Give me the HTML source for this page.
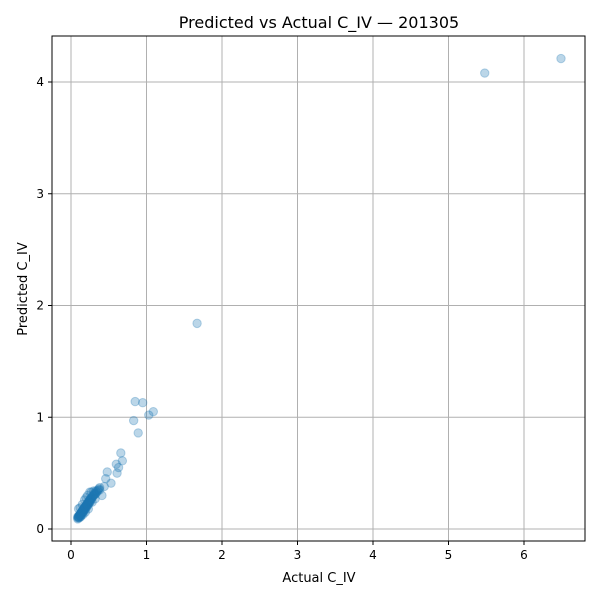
<!DOCTYPE html>
<html><head><meta charset="utf-8"><style>
body{margin:0;background:#fff}
svg text{font-family:"DejaVu Sans","Liberation Sans",sans-serif;fill:#000}
</style></head><body>
<svg id="chart" width="600" height="600" xmlns="http://www.w3.org/2000/svg">
<rect width="600" height="600" fill="#fff"/>
<g id="grid"></g>
<g id="points"></g>
<rect x="52" y="36" width="533" height="505" fill="none" stroke="#000" stroke-width="1"/>
<g id="ticks"></g>
<text x="319" y="28" text-anchor="middle" font-size="16">Predicted vs Actual C_IV — 201305</text>
<text x="319" y="582" text-anchor="middle" font-size="13">Actual C_IV</text>
<text transform="translate(27,289) rotate(-90)" text-anchor="middle" font-size="13">Predicted C_IV</text>
</svg>
<script>
const xTicks=[0,1,2,3,4,5,6];
const yTicks=[0,1,2,3,4];
const actual=[0.09,0.10,0.10,0.11,0.11,0.12,0.12,0.13,0.13,0.14,0.14,0.15,0.15,0.16,0.16,0.17,0.17,0.18,0.18,0.19,0.19,0.20,0.20,0.21,0.21,0.22,0.22,0.23,0.23,0.24,0.24,0.25,0.25,0.26,0.26,0.27,0.28,0.29,0.30,0.31,0.32,0.33,0.34,0.35,0.36,0.37,0.38,0.10,0.12,0.15,0.18,0.20,0.22,0.25,0.27,0.30,0.13,0.16,0.19,0.23,0.28,0.32,
0.09,0.10,0.11,0.12,0.13,0.14,0.15,0.16,0.17,0.18,0.19,0.20,0.21,0.22,0.23,0.24,0.25,0.26,0.27,0.29,0.31,0.33,0.09,0.11,0.13,0.15,0.17,0.19,0.21,0.24,
0.38,0.41,0.44,0.46,0.48,0.53,0.60,0.61,0.63,0.66,0.68,0.83,0.85,0.89,0.95,1.03,1.09,1.67,5.48,6.49];
const predicted=[0.09,0.10,0.11,0.10,0.12,0.11,0.13,0.12,0.14,0.13,0.15,0.14,0.16,0.15,0.17,0.16,0.18,0.17,0.19,0.18,0.20,0.19,0.21,0.20,0.22,0.21,0.23,0.22,0.24,0.23,0.25,0.24,0.26,0.25,0.27,0.27,0.28,0.29,0.30,0.31,0.31,0.32,0.33,0.34,0.35,0.36,0.37,0.18,0.19,0.22,0.26,0.28,0.30,0.33,0.33,0.34,0.11,0.13,0.15,0.18,0.24,0.27,
0.10,0.11,0.12,0.13,0.14,0.15,0.16,0.17,0.18,0.19,0.20,0.21,0.22,0.23,0.24,0.25,0.26,0.27,0.28,0.30,0.32,0.34,0.11,0.12,0.14,0.16,0.18,0.20,0.22,0.25,
0.35,0.30,0.38,0.45,0.51,0.41,0.58,0.50,0.55,0.68,0.61,0.97,1.14,0.86,1.13,1.02,1.05,1.84,4.08,4.21];
const X0=71,XS=(524-71)/6,Y0=529,YS=(529-82)/4;
const sx=v=>X0+v*XS, sy=v=>Y0-v*YS;
const NS="http://www.w3.org/2000/svg";
const grid=document.getElementById('grid'),ticks=document.getElementById('ticks'),pts=document.getElementById('points');
function mk(tag,attrs,parent){const e=document.createElementNS(NS,tag);for(const k in attrs)e.setAttribute(k,attrs[k]);parent.appendChild(e);return e;}
xTicks.forEach(t=>{const x=sx(t);
const g=mk('line',{x1:x,x2:x,y1:36,y2:541,stroke:'#b0b0b0','stroke-width':1},grid);


mk('line',{x1:x,x2:x,y1:541,y2:545,stroke:'#000'},ticks);
const l=mk('text',{x:x,y:559,'text-anchor':'middle','font-size':12},ticks);l.textContent=t;

});
yTicks.forEach(t=>{const y=sy(t);
const g=mk('line',{x1:52,x2:585,y1:y,y2:y,stroke:'#b0b0b0','stroke-width':1},grid);


mk('line',{x1:48,x2:52,y1:y,y2:y,stroke:'#000'},ticks);
const l=mk('text',{x:44,y:y+4,'text-anchor':'end','font-size':12},ticks);l.textContent=t;

});
actual.forEach((a,i)=>{const c=mk('circle',{cx:sx(a),cy:sy(predicted[i]),r:4.2,fill:'#1f77b4','fill-opacity':0.3,stroke:'#1f77b4','stroke-opacity':0.3},pts);

});
</script>
</body></html>
